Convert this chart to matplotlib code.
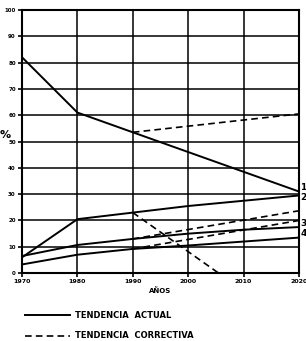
import matplotlib.pyplot as plt
from matplotlib.lines import Line2D

# data (percent)
years = [1970, 1980, 1990, 2000, 2010, 2020]
actual_1 = [82, 61, 53.5, 46, 38.5, 31]
actual_2 = [6, 20.5, 23, 25.5, 27.5, 29.5]
actual_3 = [6.5, 10.7, 13, 15, 16.5, 17.5]
actual_4 = [3.3, 7, 9.2, 10.5, 12, 13.5]

corr_years = [1990, 2020]
corr_1 = [53.5, 60.5]
corr_3 = [13, 23.7]
corr_4 = [9.2, 20]
corr_2_years = [1990, 2005.5]
corr_2 = [23, 0]

yticks = list(range(0, 101, 10))
end_labels = ['1', '2', '3', '4']

fig = plt.figure(figsize=(3.06, 3.41), dpi=100)
ax = fig.add_axes([0.072, 0.199, 0.905, 0.772])

for vals in [actual_1, actual_2, actual_3, actual_4]:
    ax.plot(years, vals, color='black', lw=1.4)
for xs, vals in [(corr_years, corr_1), (corr_years, corr_3),
                 (corr_years, corr_4), (corr_2_years, corr_2)]:
    ax.plot(xs, vals, color='black', lw=1.2, ls=(0, (4, 2.5)))

ax.set_xlim(1970, 2020)
ax.set_ylim(0, 100)
ax.set_xticks(years)
ax.set_yticks(yticks)
ax.set_xticklabels([str(y) for y in years], fontsize=4.5, fontweight='bold')
ax.set_yticklabels([str(v) for v in yticks], fontsize=4, fontweight='bold')
ax.tick_params(length=3, width=1.2, pad=1.5)
ax.grid(True, color='black', lw=1.1)
for s in ax.spines.values():
    s.set_linewidth(1.5)
ax.set_xlabel('AÑOS', fontsize=5, fontweight='bold', labelpad=2)

fig.text(0.018, 1 - 135 / 341, '%', fontsize=8, fontweight='bold',
         ha='center', va='center')

# curve numbers at right edge
for lab, yp in zip(end_labels, [188, 198, 224, 234]):
    fig.text(0.982, 1 - yp / 341, lab, fontsize=6.5, fontweight='bold',
             ha='left', va='center')

# legend drawn below
fig.add_artist(Line2D([25 / 306, 70 / 306], [1 - 315 / 341] * 2,
                      color='black', lw=1.4))
fig.add_artist(Line2D([25 / 306, 70 / 306], [1 - 336 / 341] * 2,
                      color='black', lw=1.2, ls=(0, (4, 2.5))))
fig.text(75 / 306, 1 - 315 / 341, 'TENDENCIA  ACTUAL', fontsize=6,
         fontweight='bold', va='center')
fig.text(75 / 306, 1 - 336 / 341, 'TENDENCIA  CORRECTIVA', fontsize=6,
         fontweight='bold', va='center')

fig.savefig('out.png', dpi=100)
